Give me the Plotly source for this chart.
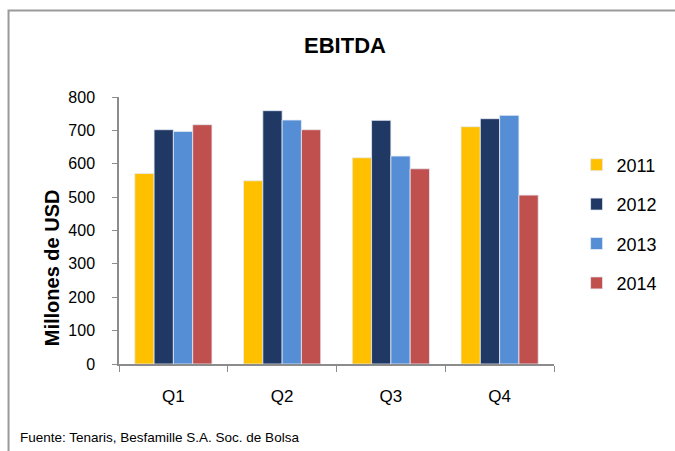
import plotly.graph_objects as go

quarters = ["Q1", "Q2", "Q3", "Q4"]
years = ["2011", "2012", "2013", "2014"]
ebitda_2011 = [571, 549, 618, 711]
ebitda_2012 = [702, 759, 730, 735]
ebitda_2013 = [697, 731, 623, 745]
ebitda_2014 = [717, 702, 585, 506]
series = [ebitda_2011, ebitda_2012, ebitda_2013, ebitda_2014]
colors = ["#FFC000", "#1F3864", "#558ED5", "#C0504D"]

FONT = "Liberation Sans, Arial, sans-serif"

fig = go.Figure()
for i, (yr, vals) in enumerate(zip(years, series)):
    fig.add_trace(go.Bar(
        x=quarters, y=vals, name=yr, legendgroup=yr,
        marker=dict(color=colors[i], line=dict(color="rgba(230,235,245,0.8)", width=1)),
    ))

W, H = 675, 451
L, R, T, B = 119, 113, 97, 87
pw, ph = W - L - R, H - T - B

def px(x):
    return (x - L) / pw

def py(y):
    return (H - B - y) / ph

fig.update_layout(
    width=W, height=H,
    margin=dict(l=L, r=R, t=T, b=B),
    paper_bgcolor="white", plot_bgcolor="white",
    barmode="group", bargap=0.29, bargroupgap=0,
    title=dict(text="<b>EBITDA</b>", x=345 / W, xref="container", xanchor="center",
               y=1 - 45 / H, yref="container", yanchor="middle",
               font=dict(family=FONT, size=22, color="black")),
    legend=dict(x=px(585), xanchor="left", y=py(224), yanchor="middle",
                font=dict(family=FONT, size=18, color="black"),
                traceorder="grouped", tracegroupgap=13, itemwidth=30,
                bgcolor="rgba(0,0,0,0)"),
    font=dict(family=FONT, color="black"),
    showlegend=True,
)
fig.update_xaxes(
    showline=True, linecolor="#8c8c8c", linewidth=1.5,
    ticks="outside", tickson="boundaries", ticklen=6, tickcolor="#8c8c8c",
    tickfont=dict(family=FONT, size=17, color="black"),
    ticklabelstandoff=16, showgrid=False,
)
fig.update_yaxes(
    range=[0, 800], dtick=100, showline=True, linecolor="#8c8c8c", linewidth=1.5,
    ticks="outside", ticklen=5, tickcolor="#8c8c8c",
    tickfont=dict(family=FONT, size=16, color="black"),
    ticklabelstandoff=14, showgrid=False, zeroline=False,
)

fig.add_annotation(text="<b>Millones de USD</b>", textangle=-90,
                   x=px(51), y=py(268), xref="paper", yref="paper",
                   xanchor="center", yanchor="middle", showarrow=False,
                   font=dict(family=FONT, size=20, color="black"))
fig.add_annotation(text="Fuente: Tenaris, Besfamille S.A. Soc. de Bolsa",
                   x=px(16), y=py(437), xref="paper", yref="paper",
                   xanchor="left", yanchor="middle", showarrow=False,
                   font=dict(family=FONT, size=13.5, color="black"))

border = dict(color="#9a9a9a", width=2)
fig.add_shape(type="path", xref="paper", yref="paper",
              path="M {x0},{y0} L {x0},{y1} L {x1},{y1}".format(
                  x0=px(6.5), y0=py(470), y1=py(10.5), x1=px(760)),
              line=border)

fig.write_html("out.html", config={"displayModeBar": False})
